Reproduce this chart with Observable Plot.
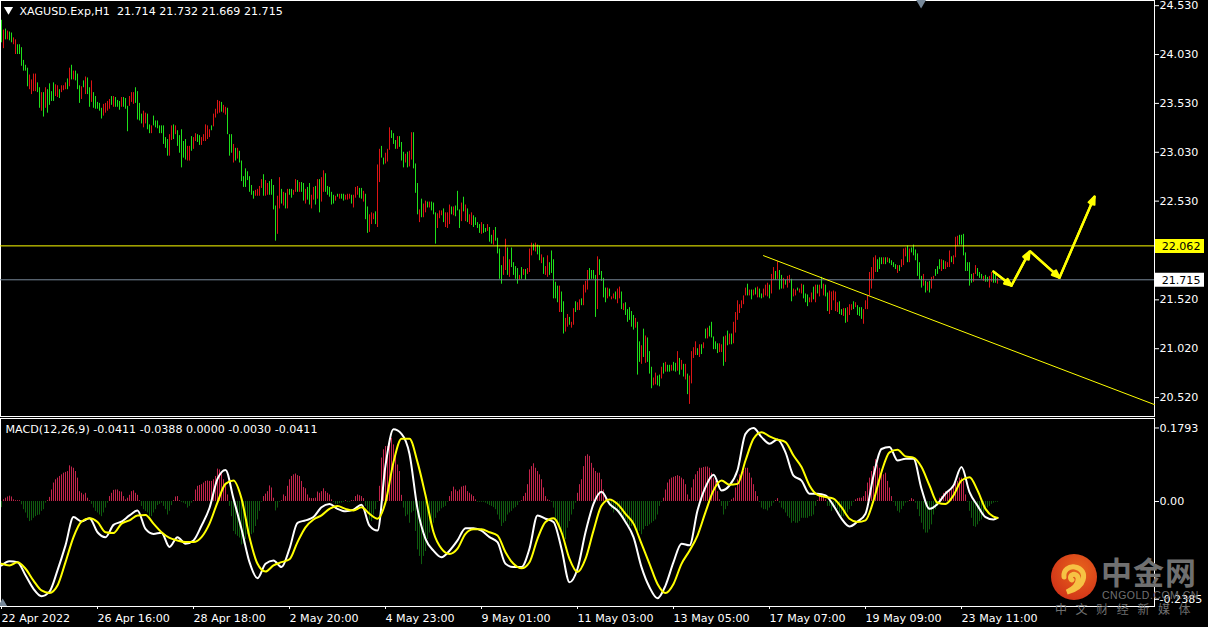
<!DOCTYPE html>
<html><head><meta charset="utf-8">
<script src="https://cdn.jsdelivr.net/npm/d3@7"></script>
<script src="https://cdn.jsdelivr.net/npm/@observablehq/plot@0.6"></script>
<style>
html,body{margin:0;padding:0;background:#000;overflow:hidden}
#chart{position:relative;width:1208px;height:627px;background:#000;overflow:hidden}
#price,#macd{position:absolute;left:0}
#price{top:0}#macd{top:418px}
svg{display:block}
.wm{position:absolute;color:#707070;white-space:nowrap;font-family:"Noto Sans CJK SC",sans-serif}
</style></head><body>
<div id="chart"><div id="price"></div><div id="macd"></div>
<svg style="position:absolute;left:1050px;top:553px" width="48" height="48" viewBox="0 0 48 48">
<defs><radialGradient id="lg" cx="0.6" cy="0.35" r="0.75"><stop offset="0" stop-color="#e8641c"/><stop offset="1" stop-color="#cf2f18"/></radialGradient></defs>
<circle cx="24" cy="24" r="23" fill="url(#lg)"/>
<path d="M14 24c-1-7 5-11 11-10 7 1 10 7 8 13-2 7-8 10-16 12 6-3 11-7 11-12 1-4-3-7-6-5-2 1-2 4 0 5" fill="none" stroke="#f6c244" stroke-width="5" stroke-linecap="round"/></svg>
<div class="wm" style="left:1101px;top:549px;font-size:31px;font-weight:700;letter-spacing:1px;line-height:44px">中金网</div>
<div class="wm" style="left:1102px;top:589px;font-size:10.5px;letter-spacing:.5px;line-height:13px;font-family:'Liberation Sans'">CNGOLD.COM.CN</div>
<div class="wm" style="left:1055px;top:601px;font-size:12px;letter-spacing:8.6px;line-height:16px">中文财经新媒体</div>
</div>
<script>
const symbolHeader = "XAGUSD.Exp,H1  21.714 21.732 21.669 21.715";
const macdHeader = "MACD(12,26,9) -0.0411 -0.0388 0.0000 -0.0030 -0.0411";
const priceTicks = [24.53,24.03,23.53,23.03,22.53,21.52,21.02,20.52];
const macdTicks = [0.1793,0,-0.2385];
const macdTickLabels = ["0.1793","0.00","-0.2385"];
const timeTicks = [0,48,96,144,192,240,288,336,384,432,480];
const timeLabels = ["22 Apr 2022","26 Apr 16:00","28 Apr 18:00","2 May 20:00","4 May 23:00","9 May 01:00","11 May 03:00","13 May 05:00","17 May 07:00","19 May 09:00","23 May 11:00"];
const resistance = 22.062, lastPrice = 21.715;

// high / low of each hourly bar, in cents
const barHigh = [2437,2427,2428,2426,2425,2424,2419,2417,2412,2412,2409,2396,2391,2388,2381,2376,2382,2382,2373,2368,
2363,2363,2368,2366,2372,2364,2373,2371,2370,2366,2370,2370,2373,2377,2388,2391,2385,2385,2382,2370,
2369,2375,2379,2378,2368,2375,2363,2359,2353,2352,2347,2351,2352,2354,2356,2359,2359,2358,2355,2354,
2358,2358,2357,2349,2359,2363,2363,2368,2364,2352,2341,2344,2342,2341,2330,2329,2339,2334,2334,2329,
2329,2329,2317,2315,2320,2329,2330,2329,2324,2319,2325,2313,2315,2308,2308,2318,2317,2321,2320,2319,
2317,2320,2330,2329,2325,2329,2341,2346,2355,2354,2353,2350,2348,2347,2320,2320,2310,2306,2306,2303,
2293,2277,2285,2282,2277,2268,2262,2263,2264,2267,2274,2279,2273,2270,2272,2274,2268,2247,2257,2276,
2264,2261,2260,2264,2264,2264,2263,2274,2273,2271,2271,2270,2264,2266,2270,2258,2266,2267,2274,2274,
2276,2283,2280,2267,2266,2261,2258,2257,2259,2259,2259,2259,2258,2259,2259,2258,2258,2266,2267,2265,
2265,2262,2259,2246,2238,2240,2239,2241,2289,2305,2308,2296,2301,2305,2327,2324,2321,2314,2318,2318,
2312,2302,2300,2302,2303,2322,2322,2290,2270,2243,2254,2249,2252,2251,2251,2251,2250,2240,2239,2242,
2242,2244,2240,2240,2248,2246,2246,2247,2262,2243,2250,2256,2248,2244,2238,2240,2237,2235,2230,2228,
2230,2228,2224,2228,2225,2217,2222,2225,2214,2203,2186,2195,2213,2204,2192,2204,2189,2185,2183,2176,
2184,2182,2182,2183,2203,2209,2208,2209,2207,2206,2197,2194,2185,2196,2189,2201,2192,2169,2165,2165,
2159,2149,2132,2136,2133,2128,2142,2149,2148,2151,2152,2166,2170,2181,2183,2181,2181,2176,2195,2192,
2180,2173,2163,2163,2162,2154,2157,2159,2162,2164,2159,2147,2148,2141,2143,2139,2135,2132,2128,2108,
2104,2121,2114,2112,2098,2082,2071,2076,2073,2074,2082,2086,2087,2084,2084,2084,2087,2086,2098,2091,
2089,2085,2085,2075,2073,2098,2102,2108,2101,2105,2105,2107,2121,2122,2124,2128,2113,2108,2106,2106,
2105,2113,2114,2119,2116,2116,2128,2138,2150,2146,2150,2155,2163,2167,2161,2161,2161,2163,2164,2162,
2157,2162,2166,2168,2166,2177,2184,2180,2190,2181,2176,2173,2171,2175,2176,2172,2162,2161,2163,2162,
2167,2166,2157,2156,2153,2158,2164,2166,2166,2166,2174,2167,2166,2158,2160,2159,2160,2159,2148,2149,
2141,2142,2142,2143,2146,2146,2149,2148,2145,2143,2143,2141,2150,2155,2179,2184,2194,2196,2192,2194,
2194,2194,2194,2194,2193,2191,2189,2187,2186,2186,2192,2203,2204,2206,2203,2204,2207,2202,2198,2189,
2175,2177,2170,2169,2170,2174,2175,2182,2185,2192,2192,2191,2190,2189,2201,2195,2196,2215,2216,2217,
2217,2218,2199,2189,2189,2177,2178,2186,2183,2179,2177,2175,2176,2174,2175,2179,2180,2177,2173];
const barLow = [2414,2408,2417,2417,2416,2414,2412,2402,2402,2402,2390,2385,2385,2369,2366,2361,2364,2364,2363,2347,
2344,2338,2347,2342,2350,2354,2354,2359,2358,2357,2363,2365,2366,2366,2369,2376,2376,2375,2366,2352,
2356,2368,2361,2361,2348,2353,2347,2346,2346,2344,2336,2339,2342,2344,2346,2350,2348,2348,2348,2345,
2348,2348,2346,2323,2349,2353,2351,2352,2335,2334,2331,2327,2331,2325,2321,2321,2329,2327,2326,2321,
2321,2310,2306,2298,2298,2314,2315,2320,2308,2301,2286,2296,2294,2293,2293,2303,2305,2313,2312,2309,
2309,2313,2313,2315,2317,2324,2328,2337,2341,2342,2343,2342,2340,2320,2298,2301,2291,2293,2295,2291,
2272,2266,2266,2273,2261,2258,2254,2257,2257,2257,2265,2257,2257,2258,2258,2258,2243,2211,2218,2244,
2249,2247,2244,2244,2258,2255,2258,2261,2261,2261,2261,2252,2249,2253,2248,2244,2253,2248,2254,2240,
2251,2261,2261,2258,2256,2248,2249,2252,2256,2254,2254,2252,2253,2253,2254,2249,2245,2255,2258,2255,
2254,2251,2233,2219,2220,2228,2233,2228,2225,2271,2296,2289,2290,2292,2304,2316,2310,2305,2305,2307,
2293,2286,2291,2286,2287,2294,2285,2260,2238,2230,2235,2235,2240,2245,2245,2242,2238,2208,2224,2234,
2237,2230,2225,2224,2228,2238,2237,2236,2242,2224,2231,2241,2231,2230,2228,2227,2225,2227,2224,2219,
2218,2219,2220,2221,2210,2208,2207,2211,2198,2172,2167,2176,2181,2176,2174,2184,2176,2172,2167,2171,
2172,2176,2171,2177,2179,2196,2201,2200,2197,2191,2188,2177,2176,2174,2176,2178,2152,2152,2148,2138,
2138,2116,2118,2123,2125,2122,2125,2138,2140,2140,2145,2145,2158,2161,2171,2172,2172,2133,2141,2176,
2170,2153,2148,2152,2154,2151,2152,2151,2147,2152,2141,2140,2135,2128,2130,2123,2120,2122,2074,2087,
2085,2092,2086,2087,2075,2060,2063,2064,2063,2062,2070,2075,2077,2077,2077,2078,2078,2077,2078,2074,
2079,2072,2069,2054,2044,2065,2091,2094,2094,2092,2095,2101,2111,2111,2113,2112,2100,2100,2096,2097,
2097,2083,2087,2104,2105,2105,2106,2117,2130,2137,2142,2146,2155,2155,2155,2151,2155,2156,2153,2153,
2152,2153,2155,2154,2152,2157,2171,2171,2172,2161,2162,2162,2166,2163,2168,2149,2154,2155,2160,2158,
2157,2152,2148,2144,2148,2148,2151,2148,2157,2154,2162,2155,2154,2139,2136,2140,2150,2139,2138,2136,
2135,2134,2127,2128,2135,2140,2141,2143,2135,2134,2131,2126,2141,2141,2155,2162,2172,2179,2179,2182,
2187,2187,2187,2189,2188,2186,2184,2182,2178,2180,2184,2186,2195,2189,2189,2199,2196,2191,2175,2171,
2163,2165,2158,2160,2158,2162,2172,2175,2177,2182,2180,2182,2182,2184,2184,2189,2187,2194,2206,2207,
2207,2196,2180,2180,2165,2168,2169,2177,2175,2173,2172,2170,2169,2169,2163,2169,2168,2168,2167];
// bar direction: g = green bar, r = red bar
const barColorKey = "grgrggrrgg"+"ggggrrrrgg"+"rgrggggrrg"+"rrrgrgrggg"+"rgrggrgggg"+"grrrrgrggg"+"rgggrrrggg"+"grrggrgggg"+"ggggrrgrgg"+"gggrrgrrgg"+
"rrrrrgrrrr"+"grrgggrgrg"+"gggggggrrr"+"rgrrggggrr"+"grgrggrrgr"+"ggrggrrgrg"+"rrgggggrgr"+"ggrrrgrrrg"+"grggrrrgrr"+"ggrrrgggrg"+
"ggrgrrgggr"+"grrgrgggrr"+"rgrrrgrggg"+"rgrgrrgggg"+"rggrggrggg"+"grrgrggggr"+"grgrrrgrgg"+"rgrrgggggr"+"ggrrgrrgrr"+"grrrggggrg"+
"gggrgrrgrr"+"grgggggrgg"+"rgrgggrrgg"+"rgrggrggrg"+"rgrgrrrrgr"+"grgrgggggr"+"rgrgrgrrrr"+"rrrgrgrgrg"+"grrrgrrgrg"+"grgrrgrrgr"+
"rgggrrgrgr"+"grggrrrrrg"+"grgrrrgrgg"+"grrrrrrrgg"+"grgrggggrg"+"rrrgrggggg"+"grgrgrrggg"+"rgrrrgrrrg"+"ggggggrrgg"+"grggrrggr";

// histogram per bar, in thousandths
const histogram = [-15,4,8,11,13,11,4,2,2,2,-8,-20,-28,-41,-49,-47,-41,-37,-34,-33,
-24,-20,-4,2,10,28,45,53,57,61,65,69,71,73,87,84,81,73,57,24,
20,16,20,8,2,-7,-16,-24,-28,-33,-37,-28,-16,-4,12,20,27,28,28,24,
23,12,4,8,15,24,26,20,15,2,-12,-20,-24,-28,-37,-37,-28,-20,-10,-7,
-4,-12,-20,-33,-24,-10,2,11,12,2,-2,-4,-7,-16,-12,-4,2,28,37,39,
41,45,49,50,49,49,53,61,79,77,69,53,41,16,-12,-37,-73,-81,-85,-89,
-106,-104,-93,-81,-85,-81,-77,-61,-45,-24,-2,12,18,24,38,33,8,-23,-16,-2,
2,16,12,37,53,61,65,67,63,61,49,34,31,16,8,7,7,8,23,20,
24,31,24,20,16,4,-2,-7,-7,-5,-4,-2,2,-2,-2,2,2,12,16,14,
12,7,-12,-20,-45,-49,-33,-20,-2,37,106,126,134,134,146,154,138,114,89,73,
15,-16,-37,-33,-53,-28,-24,-73,-118,-134,-154,-134,-122,-93,-77,-53,-53,-41,-28,-24,
-18,-15,-12,-2,12,24,35,28,24,28,35,37,38,24,20,16,12,4,-2,-2,
-2,-2,-4,-7,-10,-12,-15,-20,-33,-45,-61,-53,-49,-33,-28,-24,-18,-15,-10,-2,
2,12,20,41,77,85,92,81,73,65,53,33,12,4,2,-2,-16,-45,-57,-69,
-77,-85,-93,-65,-49,-33,-20,-4,20,41,53,85,110,114,110,93,81,73,69,69,
53,28,12,-4,-12,-20,-28,-20,-24,-28,-33,-41,-45,-53,-61,-61,-57,-69,-81,-73,
-81,-69,-61,-61,-57,-53,-49,-45,-33,-12,-2,8,28,45,53,57,59,61,63,61,
57,53,41,16,4,33,53,65,73,81,81,83,84,84,81,69,57,49,24,4,
-12,-33,-20,-12,-2,4,8,33,53,65,69,73,81,81,69,57,41,24,12,-2,
-16,-20,-20,-23,-16,-12,-4,2,7,-4,-16,-20,-28,-37,-41,-53,-49,-53,-53,-49,
-41,-41,-41,-41,-37,-37,-33,-12,2,12,16,12,4,-12,-12,-24,-12,-12,-20,-28,
-37,-37,-33,-28,-20,-12,-2,4,7,8,8,12,24,45,57,73,85,102,89,81,
77,65,69,49,33,12,-2,-12,-24,-28,-20,-12,-4,-2,2,7,4,-4,-20,-37,
-53,-69,-77,-77,-69,-57,-33,-20,-12,8,12,20,24,20,24,28,37,45,49,57,
57,49,16,-2,-24,-41,-61,-63,-57,-49,-45,-33,-24,-16,-12,-7,-4,-2,-2];

// MACD and signal lines read every fourth bar (plus the last bar), in thousandths
const macdBars = [0,4,8,12,16,20,24,28,32,36,40,44,48,52,56,60,64,68,72,76,80,84,88,92,96,100,104,108,112,116,120,124,128,132,136,140,144,148,152,156,160,164,168,172,176,180,184,188,192,196,
200,204,208,212,216,220,224,228,232,236,240,244,248,252,256,260,264,268,272,276,280,284,288,292,296,300,304,308,312,316,320,324,328,332,336,340,344,348,352,356,360,364,368,372,376,380,384,388,392,396,
400,404,408,412,416,420,424,428,432,436,440,444,448,452,456,460,464,468,472,476,480,484,488,492,496,498];
const macdMain = [-156,-146,-148,-180,-213,-231,-220,-168,-107,-38,-49,-41,-75,-87,-57,-49,-34,-22,-67,-79,-76,-111,-87,-103,-95,-59,-16,55,77,7,-67,-148,-187,-152,-144,-160,-115,-52,-46,-38,-14,-6,-18,-24,-20,-8,-59,-71,88,176,
165,116,-18,-91,-120,-136,-120,-95,-65,-65,-71,-87,-99,-152,-160,-160,-115,-34,-42,-50,-115,-197,-164,-75,-6,24,-6,-22,-50,-87,-160,-209,-236,-205,-148,-103,-107,-22,35,65,27,39,76,165,179,157,141,151,120,63,
51,19,19,15,-10,-42,-61,-49,-30,63,128,133,100,104,104,31,-18,-6,19,39,84,23,-10,-38,-44,-40];
const macdSignal = [-152,-156,-148,-164,-193,-217,-223,-205,-148,-87,-49,-41,-50,-75,-77,-54,-46,-34,-33,-54,-75,-89,-95,-99,-99,-87,-54,-2,43,51,7,-87,-152,-171,-156,-148,-141,-99,-63,-44,-34,-18,-11,-18,-22,-14,-30,-42,-2,96,
153,153,96,15,-75,-115,-128,-115,-79,-68,-68,-75,-83,-124,-152,-163,-148,-91,-50,-41,-75,-140,-172,-140,-71,-10,5,-6,-30,-54,-103,-152,-201,-223,-201,-152,-120,-83,-26,27,51,41,43,100,153,169,159,151,145,112,
84,39,16,11,7,-14,-42,-50,-46,2,72,120,126,110,107,84,39,-3,-6,15,51,59,27,-18,-37,-40];

// hand-drawn annotations on the chart: bar position, price
const trendBars = [381,576.5], trendPrices = [21.962,20.438];
const arrowFromBar = [496,505,514.5,529], arrowToBar = [505,514,529,546.5];
const arrowFromPrice = [21.799,21.656,22.003,21.737], arrowToPrice = [21.656,22.003,21.737,22.566];

const bars = barHigh.map((h,i)=>({i,high:h/100,low:barLow[i]/100,key:barColorKey[i]}));
const hist = histogram.map((v,i)=>({i,v:v/1000}));
const mainLine = macdBars.map((i,k)=>({i,v:macdMain[k]/1000}));
const signalLine = macdBars.map((i,k)=>({i,v:macdSignal[k]/1000}));
const arrows = arrowFromBar.map((b,k)=>({x1:b,x2:arrowToBar[k],y1:arrowFromPrice[k],y2:arrowToPrice[k]}));
const trend = trendBars.map((b,k)=>({b,p:trendPrices[k]}));

const FONT = "'DejaVu Sans',sans-serif", FS = 11.1;
const xDomain = [-0.5,576.5];
const GREEN="#1fe01a", RED="#dc1414", YEL="#ffff00", SLATE="#778899";

const price = Plot.plot({
  width:1208,height:418,marginTop:0,marginLeft:0,marginRight:54,marginBottom:2,
  style:{background:"transparent",fontFamily:FONT,fontSize:FS+"px",color:"#fff"},
  x:{domain:xDomain,axis:null},
  y:{domain:[20.3162,24.5727],axis:null},
  marks:[
    Plot.frame({stroke:"#fff"}),
    Plot.ruleX(bars,{x:"i",y1:"low",y2:"high",stroke:d=>d.key==="g"?GREEN:RED,strokeWidth:1}),
    Plot.ruleY([lastPrice],{stroke:SLATE}),
    Plot.ruleY([resistance],{stroke:YEL}),
    Plot.line(trend,{x:"b",y:"p",stroke:YEL,strokeWidth:1}),
    Plot.arrow(arrows,{x1:"x1",y1:"y1",x2:"x2",y2:"y2",stroke:YEL,strokeWidth:2.4,headLength:5,headAngle:44}),
    Plot.arrow(arrows,{x1:"x1",y1:"y1",x2:"x2",y2:"y2",stroke:YEL,strokeWidth:2.4,headLength:5,headAngle:20}),
    Plot.axisY({anchor:"right",ticks:priceTicks,tickFormat:d=>d.toFixed(3),tickSize:4,tickPadding:1,color:"#fff",fontSize:FS,label:null,dy:1}),
    Plot.ruleY([resistance],{x1:577,x2:601.5,stroke:YEL,strokeWidth:14}),
    Plot.ruleY([lastPrice],{x1:577,x2:601.5,stroke:"#fff",strokeWidth:14}),
    Plot.text([resistance],{x:602,y:d=>d,text:d=>d.toFixed(3),fill:"#000",textAnchor:"end",dx:-5,dy:1,fontSize:FS}),
    Plot.text([lastPrice],{x:602,y:d=>d,text:d=>d.toFixed(3),fill:"#000",textAnchor:"end",dx:-5,dy:1,fontSize:FS}),
    Plot.dot([0],{x:3.5,y:24.48,symbol:"triangle",rotate:180,r:3.4,fill:"#fff"}),
    Plot.text([symbolHeader],{frameAnchor:"top-left",dx:19,dy:6.5,fill:"#fff",fontSize:FS,textAnchor:"start",lineAnchor:"top"}),
    Plot.dot([0],{x:459.8,y:24.562,symbol:"triangle",rotate:180,r:4.5,fill:SLATE})
  ]
});
document.getElementById("price").append(price);

const macd = Plot.plot({
  width:1208,height:209,marginTop:0,marginLeft:0,marginRight:54,marginBottom:21,
  style:{background:"transparent",fontFamily:FONT,fontSize:FS+"px",color:"#fff"},
  x:{domain:xDomain,axis:null},
  y:{domain:[-0.2561,0.2024],axis:null},
  marks:[
    Plot.frame({stroke:"#fff"}),
    Plot.ruleX(hist,{x:"i",y1:0,y2:"v",stroke:d=>d.v>0?"#c4244c":"#0f5c0f",strokeWidth:1}),
    Plot.line(mainLine,{x:"i",y:"v",stroke:"#fff",strokeWidth:2,curve:"monotone-x"}),
    Plot.line(signalLine,{x:"i",y:"v",stroke:YEL,strokeWidth:2,curve:"monotone-x"}),
    Plot.axisY({anchor:"right",ticks:macdTicks,tickFormat:d=>macdTickLabels[macdTicks.indexOf(d)],tickSize:4,tickPadding:1,color:"#fff",fontSize:FS,label:null}),
    Plot.axisX({anchor:"bottom",ticks:timeTicks,tickFormat:d=>timeLabels[timeTicks.indexOf(d)],tickSize:3,tickPadding:5,color:"#fff",fontSize:FS,textAnchor:"start",label:null}),
    Plot.text([macdHeader],{frameAnchor:"top-left",dx:5,dy:6.5,fill:"#fff",fontSize:FS,textAnchor:"start",lineAnchor:"top"}),
    Plot.dot([0],{x:0.6,y:-0.2515,symbol:"triangle",r:4,fill:SLATE,clip:"frame"})
  ]
});
document.getElementById("macd").append(macd);
</script></body></html>
